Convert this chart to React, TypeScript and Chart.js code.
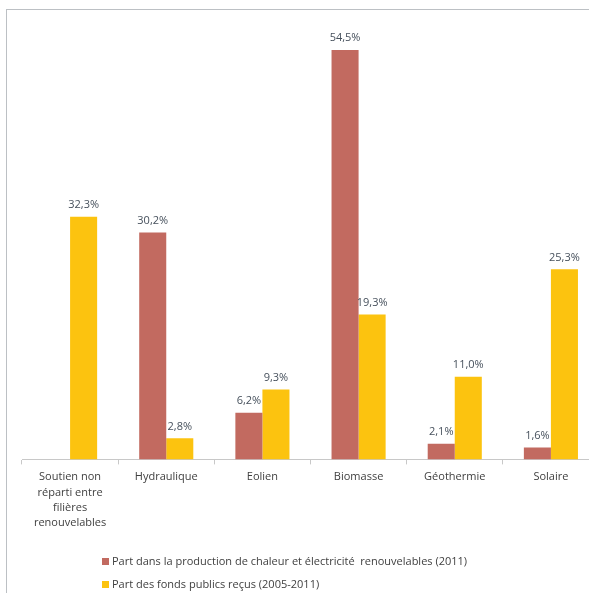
import React, { useEffect, useRef } from "react";
import { Chart, registerables } from "chart.js";

Chart.register(...registerables);

const categories: (string | string[])[] = [
  ["Soutien non", "réparti entre", "filières", "renouvelables"],
  "Hydraulique",
  "Eolien",
  "Biomasse",
  "Géothermie",
  "Solaire",
];
const productionShare: (number | null)[] = [null, 30.2, 6.2, 54.5, 2.1, 1.6];
const publicFundsShare: number[] = [32.3, 2.8, 9.3, 19.3, 11.0, 25.3];
const seriesNames: string[] = [
  "Part dans la production de chaleur et électricité  renouvelables (2011)",
  "Part des fonds publics reçus (2005-2011)",
];
const seriesColors: string[] = ["#C26A60", "#FCC30F"];

const FONT = "'Open Sans', 'Noto Sans', sans-serif";

const valueLabels = {
  id: "valueLabels",
  afterDatasetsDraw(chart: any) {
    const { ctx } = chart;
    ctx.save();
    ctx.font = `11px ${FONT}`;
    ctx.fillStyle = "#46505c";
    ctx.textAlign = "center";
    ctx.textBaseline = "middle";
    chart.data.datasets.forEach((ds: any, di: number) => {
      const meta = chart.getDatasetMeta(di);
      meta.data.forEach((el: any, i: number) => {
        const v = ds.data[i];
        if (v === null || v === undefined) return;
        const txt = v.toFixed(1).replace(".", ",") + "%";
        ctx.fillText(txt, el.x, el.y - 12);
      });
    });
    ctx.restore();
  },
};

export default function App() {
  const ref = useRef<HTMLCanvasElement | null>(null);
  useEffect(() => {
    if (!ref.current) return;
    const chart = new Chart(ref.current, {
      type: "bar",
      data: {
        labels: categories,
        datasets: [
          {
            label: seriesNames[0],
            data: productionShare,
            backgroundColor: seriesColors[0],
            barPercentage: 1,
            categoryPercentage: 0.5625,
          },
          {
            label: seriesNames[1],
            data: publicFundsShare,
            backgroundColor: seriesColors[1],
            barPercentage: 1,
            categoryPercentage: 0.5625,
          },
        ],
      },
      options: {
        animation: false,
        responsive: false,
        maintainAspectRatio: false,
        layout: { padding: { left: 22, right: 1, top: 20, bottom: 57 } },
        plugins: {
          legend: { display: false },
          tooltip: { enabled: false },
        },
        scales: {
          x: {
            grid: {
              display: true,
              drawOnChartArea: false,
              drawTicks: true,
              tickLength: 5,
              color: "#c8c8c8",
              offset: true,
            },
            border: { display: true, color: "#c8c8c8", width: 1 },
            ticks: {
              color: "#404040",
              font: { family: FONT, size: 11, lineHeight: 1.4 },
              padding: 5,
              maxRotation: 0,
              autoSkip: false,
            },
          },
          y: {
            display: false,
            min: 0,
            max: 58.5,
          },
        },
      },
      plugins: [valueLabels],
    });
    return () => chart.destroy();
  }, []);

  const legendRow = (color: string, text: string, top: number) => (
    <div
      style={{
        position: "absolute",
        left: 102,
        top,
        display: "flex",
        alignItems: "center",
        fontFamily: FONT,
        fontSize: 11,
        color: "#404040",
        whiteSpace: "pre",
        lineHeight: "14px",
      }}
    >
      <span style={{ display: "inline-block", width: 7, height: 7, background: color, marginRight: 3 }} />
      <span>{text}</span>
    </div>
  );

  return (
    <div
      style={{
        position: "fixed",
        left: 0,
        top: 0,
        width: 589,
        height: 593,
        overflow: "hidden",
        background: "#ffffff",
      }}
    >
      <div
        style={{
          position: "absolute",
          left: 6,
          top: 9,
          width: 700,
          height: 700,
          borderLeft: "1.5px solid #bcc0c4",
          borderTop: "1.5px solid #bcc0c4",
        }}
      />
      <canvas
        ref={ref}
        width={600}
        height={593}
        style={{ position: "absolute", left: 0, top: 0, width: 600, height: 593 }}
      />
      {legendRow(seriesColors[0], seriesNames[0], 554)}
      {legendRow(seriesColors[1], seriesNames[1], 577)}
    </div>
  );
}
